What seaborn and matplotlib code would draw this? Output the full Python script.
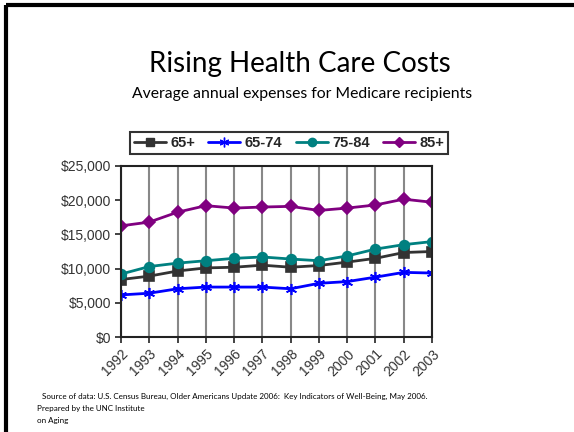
import matplotlib
matplotlib.use("Agg")
import matplotlib.pyplot as plt
import seaborn as sns
import pandas as pd
from matplotlib.lines import Line2D

years = [1992, 1993, 1994, 1995, 1996, 1997, 1998, 1999, 2000, 2001, 2002, 2003]
s_65plus = [8400, 8900, 9650, 10100, 10200, 10500, 10200, 10450, 10950, 11500, 12350, 12500]
s_65_74 = [6150, 6400, 7050, 7300, 7300, 7300, 7050, 7850, 8100, 8750, 9450, 9350]
s_75_84 = [9200, 10300, 10800, 11150, 11500, 11700, 11400, 11150, 11850, 12850, 13500, 13950]
s_85plus = [16250, 16800, 18250, 19200, 18850, 19000, 19100, 18500, 18850, 19300, 20150, 19700]
series_names = ["65+", "65-74", "75-84", "85+"]
y_ticks = [0, 5000, 10000, 15000, 20000, 25000]
y_labels = ["$0", "$5,000", "$10,000", "$15,000", "$20,000", "$25,000"]

sns.set_theme(style="white")
plt.rcParams['font.family'] = ['Liberation Sans', 'DejaVu Sans']

df = pd.DataFrame({
    "year": years * 4,
    "cost": s_65plus + s_65_74 + s_75_84 + s_85plus,
    "group": sum([[n] * len(years) for n in series_names], []),
})

colors = {"65+": "#333333", "65-74": "#0000FF", "75-84": "#008080", "85+": "#800080"}
markers = {"65+": "s", "65-74": (6, 2, 0), "75-84": "o", "85+": "D"}
msizes = {"65+": 7, "65-74": 8, "75-84": 7, "85+": 6}

fig = plt.figure(figsize=(5.74, 4.32), dpi=100)
ax = fig.add_axes([121 / 574, 1 - 337 / 432, (432 - 121) / 574, (337 - 166) / 432])

for name in series_names:
    sub = df[df["group"] == name]
    sns.lineplot(data=sub, x="year", y="cost", ax=ax, color=colors[name], lw=2,
                 marker=markers[name], markersize=msizes[name],
                 markeredgecolor=colors[name], markeredgewidth=1.2, label=name, legend=False)

ax.set_xlim(years[0], years[-1])
ax.set_ylim(0, 25000)
ax.set_xticks(years)
ax.set_xticklabels([str(y) for y in years], rotation=45, ha="right", rotation_mode="anchor",
                   fontsize=10, color="#333333")
ax.set_yticks(y_ticks)
ax.set_yticklabels(y_labels, fontsize=10, color="#333333")
ax.tick_params(axis="both", which="both", length=4, width=1.2, color="#222222",
               left=True, bottom=True, direction="out", pad=3)
ax.set_xlabel("")
ax.set_ylabel("")
ax.xaxis.grid(True, color="#888888", lw=1.5)
ax.yaxis.grid(False)
for sp in ax.spines.values():
    sp.set_color("#222222")
    sp.set_linewidth(1.5)

handles = [Line2D([], [], color=colors[n], lw=2, marker=markers[n], markersize=msizes[n] - 1,
                  markeredgecolor=colors[n]) for n in series_names]
leg = fig.legend(handles, series_names, ncol=4, loc="center", bbox_to_anchor=(289 / 574, 1 - 143 / 432),
                 prop={"weight": "bold", "size": 10.5}, frameon=True, fancybox=False,
                 handlelength=2.2, handletextpad=0.3, columnspacing=0.9, borderpad=0.25)
leg.get_frame().set_edgecolor("black")
leg.get_frame().set_linewidth(1.5)

fig.text(300 / 574, 1 - 64 / 432, "Rising Health Care Costs", ha="center", va="center",
         fontsize=20, family=["Lato", "DejaVu Sans"], color="black")
fig.text(302 / 574, 1 - 94 / 432, "Average annual expenses for Medicare recipients", ha="center",
         va="center", fontsize=11.3, family=["Lato", "DejaVu Sans"], color="black")

fig.text(42 / 574, 1 - 396 / 432,
         "Source of data: U.S. Census Bureau, Older Americans Update 2006:  Key Indicators of Well-Being, May 2006.",
         ha="left", va="center", fontsize=5.8, family=["Lato", "DejaVu Sans"], color="black")
fig.text(37 / 574, 1 - 408 / 432, "Prepared by the UNC Institute", ha="left", va="center",
         fontsize=5.8, family=["Lato", "DejaVu Sans"], color="black")
fig.text(37 / 574, 1 - 421 / 432, "on Aging", ha="left", va="center",
         fontsize=5.8, family=["Lato", "DejaVu Sans"], color="black")

# slide frame (top and left edges)
fig.add_artist(Line2D([6 / 574, 1.0], [1 - 5 / 432, 1 - 5 / 432], color="black", lw=3,
                      transform=fig.transFigure, solid_capstyle="butt"))
fig.add_artist(Line2D([6 / 574, 6 / 574], [1 - 5 / 432, 0], color="black", lw=3,
                      transform=fig.transFigure, solid_capstyle="butt"))

fig.savefig("out.png", dpi=100, facecolor="white")
